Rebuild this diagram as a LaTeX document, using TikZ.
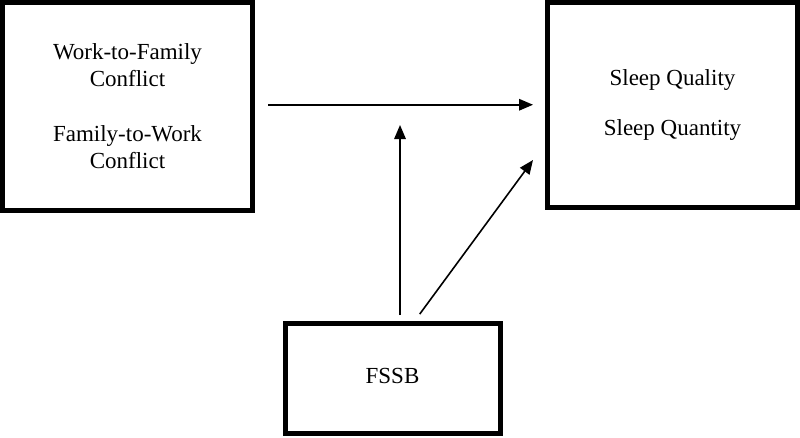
\documentclass[tikz,border=0pt]{standalone}
\usepackage{fontspec}
\setmainfont{Liberation Serif}
\usetikzlibrary{arrows.meta}
\begin{document}
\begin{tikzpicture}[x=1pt,y=-1pt,
  box/.style={draw=black, line width=5pt, inner sep=0pt, align=center,
    font=\fontsize{23}{27}\selectfont},
  arr/.style={line width=1.6pt, -{Triangle[length=14pt,width=11.5pt]}}]
\useasboundingbox (0,0) rectangle (800,437);
\node[box, minimum width=250pt, minimum height=207.5pt] (wf) at (127.5,106.25)
  {Work-to-Family\\Conflict\\[28pt]Family-to-Work\\Conflict};
\node[box, minimum width=250pt, minimum height=204.5pt] (sq) at (672.5,104.75)
  {\raisebox{1.5pt}{Sleep Quality}\\[21pt]Sleep Quantity};
\node[box, minimum width=215pt, minimum height=110pt] (fs) at (392.5,378)
  {\raisebox{4pt}{FSSB}};
\coordinate (vtip) at (400,125);
\coordinate (dstart) at (415,323);
\coordinate (dtip) at (533,160);
\draw[arr, shorten <=13pt, shorten >=12pt] (wf.east |- sq.west) -- (sq.west);
\draw[arr, shorten <=5.5pt] (fs.north -| vtip) -- (vtip);
\draw[arr, shorten <=8pt] (fs.north -| dstart) -- (dtip);
\end{tikzpicture}
\end{document}
